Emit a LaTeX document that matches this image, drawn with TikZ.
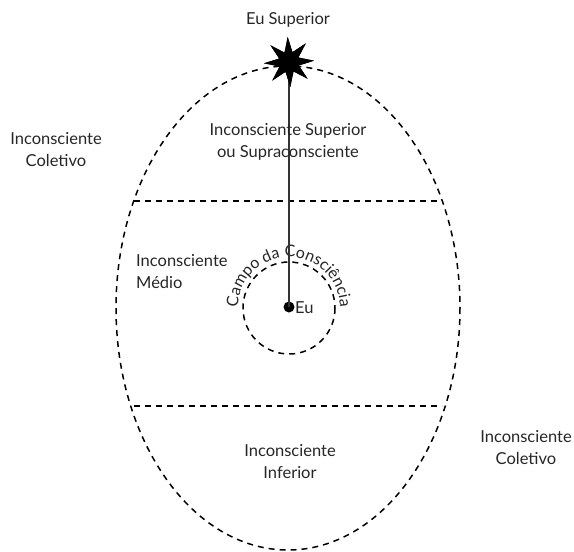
\documentclass[tikz,border=0pt]{standalone}
\usepackage{fontspec}
\setmainfont{Lato}
\usetikzlibrary{shapes.geometric,decorations.text}
\begin{document}
\begin{tikzpicture}[x=1pt,y=-1pt,
  lbl/.style={font=\fontsize{16.5}{22}\selectfont, align=center, inner sep=0pt, text=black!85},
  dsh/.style={draw=black, line width=1.5pt, dash pattern=on 6pt off 5pt},
  axis/.style={draw=black!80, line width=2.2pt},
  starshape/.style={star, star points=8, star point ratio=2.4, minimum size=50pt, fill=black, inner sep=0pt, rotate=3}]
\useasboundingbox (0,0) rectangle (574,552);
% outer ellipse
\draw[dsh] (288,308) ellipse [x radius=172, y radius=242];
% horizontal divisions
\coordinate (l1a) at (134,201); \coordinate (l1b) at (442,201);
\coordinate (l2a) at (134,406); \coordinate (l2b) at (442,406);
\draw[dsh] (l1a) -- (l1b);
\draw[dsh] (l2a) -- (l2b);
% field of consciousness
\coordinate (cc) at (289,308);
\draw[dsh] (cc) circle [radius=46];
\path[decorate, decoration={text along path, text align=center,
  text={|\fontsize{16}{18}\selectfont\color{black!85}|Campo da Consciência}}]
  (cc) ++(160:51) arc[start angle=160, end angle=380, radius=51];
% star and self
\node[starshape] (star) at (289,62) {};
\node[circle, fill=black, minimum size=11pt, inner sep=0pt] (eu) at (289,307) {};
\draw[axis] (star.center) -- (eu.center);
\node[starshape] (star2) at (star) {};
\node[lbl, anchor=west] (eulbl) at (295,308) {Eu};
% labels
\node[lbl] (sup) at (288,20) {Eu Superior};
\node[lbl] (isup) at (288,142) {Inconsciente Superior\\ou Supraconsciente};
\node[lbl, align=left, anchor=west] (imed) at (136,272) {Inconsciente\\Médio};
\node[lbl] (iinf) at (290,462) {Inconsciente\\Inferior};
\node[lbl] (icol1) at (56,150) {Inconsciente\\Coletivo};
\node[lbl] (icol2) at (526,448) {Inconsciente\\Coletivo};
\end{tikzpicture}
\end{document}
